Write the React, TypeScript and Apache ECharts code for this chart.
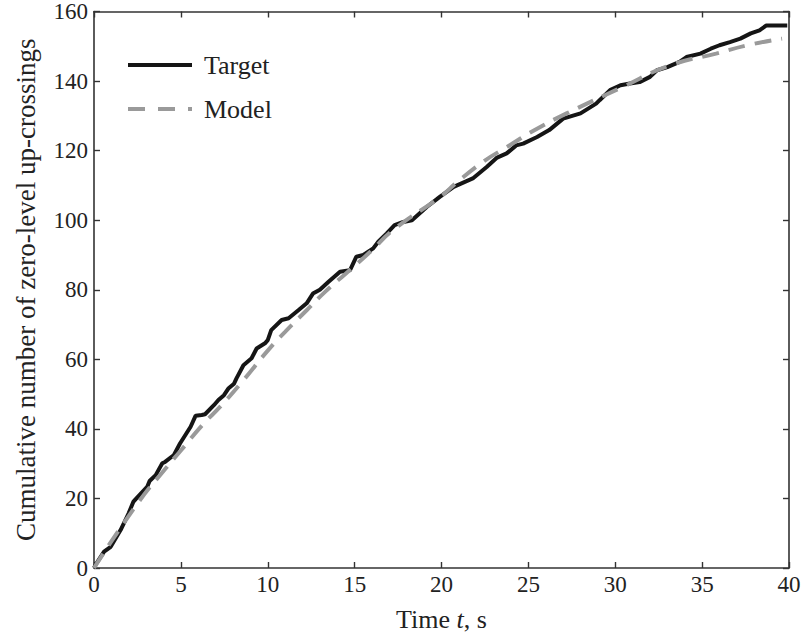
import React, { useEffect, useRef } from "react";
import * as echarts from "echarts";

const xTicks = [0, 5, 10, 15, 20, 25, 30, 35, 40];
const yTicks = [0, 20, 40, 60, 80, 100, 120, 140, 160];

const targetT = [0, 0.1, 0.58, 0.96, 1.53, 2.0, 2.26, 2.4, 3.07, 3.2, 3.55, 3.93, 4.09, 4.6, 4.95, 5.56, 5.85, 6.2, 6.39, 6.9, 7.16, 7.48, 7.73, 8.06, 8.2, 8.6, 9.07, 9.36, 9.84, 10.0, 10.2, 10.8, 11.2, 11.76, 12.24, 12.6, 13.0, 13.5, 14.16, 14.73, 15.1, 15.5, 16.07, 16.36, 16.85, 17.3, 17.8, 18.3, 19.15, 19.9, 20.7, 21.8, 22.6, 23.2, 23.75, 24.3, 24.7, 25.5, 26.2, 27.0, 28.0, 28.9, 29.1, 29.7, 30.3, 30.85, 31.4, 32.0, 32.4, 33.0, 33.7, 34.1, 34.9, 35.5, 36.0, 36.6, 37.2, 37.8, 38.3, 38.7, 39.9];
const targetV = [0, 1, 4.7, 6.1, 10.9, 15.8, 19, 19.8, 23.4, 25, 26.7, 30.1, 30.5, 32.5, 35.8, 40.6, 43.8, 44, 44.2, 46.8, 48.3, 49.7, 51.6, 53, 54.5, 58.3, 60.3, 63.1, 64.6, 65.5, 68.4, 71.3, 71.8, 74.1, 76.1, 78.9, 80, 82.3, 85.2, 85.6, 89.5, 90, 91.9, 93.8, 96.2, 98.6, 99.5, 100, 103.8, 106.7, 109.6, 112, 115.3, 118, 119.2, 121.5, 122, 123.9, 125.9, 129.2, 130.7, 133.5, 134.5, 137.4, 138.8, 139.3, 139.7, 141.2, 143.1, 144, 145.5, 146.9, 147.9, 149.3, 150.3, 151.2, 152.2, 153.7, 154.6, 156, 156];

const modelT = [0, 2.5, 4.12, 5, 6.33, 7.25, 8.6, 10, 11, 12.24, 13.3, 14.5, 15.9, 17.2, 20, 20.8, 22.4, 23.75, 25.5, 27.2, 30.3, 33.15, 35.8, 37.6, 39.6];
const modelV = [0, 18.5, 28.6, 33.8, 41.6, 46.3, 54, 62.5, 67.9, 74.1, 79.4, 84.7, 90.9, 97.1, 107, 110.5, 116.8, 121, 126.3, 130.7, 138, 144.5, 147.9, 150.3, 152.2];

const FONT = "Liberation Serif";
const INK = "#222";

export default function App() {
  const ref = useRef<HTMLDivElement>(null);
  useEffect(() => {
    if (!ref.current) return;
    const chart = echarts.init(ref.current, null, { renderer: "svg" });
    const axisLine = { show: true, onZero: false, lineStyle: { color: "#333", width: 1.6 } };
    const tick = { show: true, inside: true, length: 6, lineStyle: { color: "#333", width: 1.4 } };
    chart.setOption({
      animation: false,
      backgroundColor: "#fff",
      grid: { left: 94, right: 23, top: 11, bottom: 75, containLabel: false },
      legend: {
        orient: "vertical",
        left: 123,
        top: 45,
        itemWidth: 64,
        itemHeight: 4,
        itemGap: 14,
        textStyle: { fontFamily: FONT, fontSize: 26, color: INK, lineHeight: 30, padding: [0, 0, 0, 7] },
        data: [
          { name: "Target", icon: "rect", itemStyle: { color: "#151515" } },
          {
            name: "Model",
            icon: "path://M0,0h17v4h-17z M30,0h17v4h-17z M60,0h4v4h-4z",
            itemStyle: { color: "#9a9a9a" },
          },
        ],
      },
      xAxis: [
        {
          type: "value",
          min: 0,
          max: 40,
          interval: 5,
          axisLine,
          axisTick: tick,
          splitLine: { show: false },
          axisLabel: { fontFamily: FONT, fontSize: 23, color: INK, margin: 5 },
          name: "{n|Time }{i|t}{n|, s}",
          nameLocation: "middle",
          nameGap: 38,
          nameTextStyle: {
            rich: {
              n: { fontFamily: FONT, fontSize: 26, color: INK },
              i: { fontFamily: FONT, fontSize: 26, color: INK, fontStyle: "italic" },
            },
          },
        },
        {
          type: "value",
          position: "top",
          min: 0,
          max: 40,
          interval: 5,
          axisLine,
          axisTick: tick,
          axisLabel: { show: false },
          splitLine: { show: false },
        },
      ],
      yAxis: [
        {
          type: "value",
          min: 0,
          max: 160,
          interval: 20,
          axisLine,
          axisTick: tick,
          splitLine: { show: false },
          axisLabel: { fontFamily: FONT, fontSize: 23, color: INK, margin: 6 },
          name: "Cumulative number of zero-level up-crossings",
          nameLocation: "middle",
          nameGap: 55,
          nameTextStyle: { fontFamily: FONT, fontSize: 27, color: INK },
        },
        {
          type: "value",
          position: "right",
          min: 0,
          max: 160,
          interval: 20,
          axisLine,
          axisTick: tick,
          axisLabel: { show: false },
          splitLine: { show: false },
        },
      ],
      series: [
        {
          name: "Target",
          type: "line",
          symbol: "none",
          showSymbol: false,
          data: targetT.map((t, i) => [t, targetV[i]]),
          lineStyle: { color: "#151515", width: 4 },
          itemStyle: { color: "#151515" },
          z: 3,
        },
        {
          name: "Model",
          type: "line",
          symbol: "none",
          showSymbol: false,
          smooth: true,
          data: modelT.map((t, i) => [t, modelV[i]]),
          lineStyle: { color: "#9a9a9a", width: 4, type: [17, 10] },
          itemStyle: { color: "#9a9a9a" },
          z: 4,
        },
      ],
    });
    return () => chart.dispose();
  }, []);
  return (
    <div
      ref={ref}
      style={{ position: "fixed", left: 0, top: 0, width: 812, height: 643, background: "#fff" }}
    />
  );
}
